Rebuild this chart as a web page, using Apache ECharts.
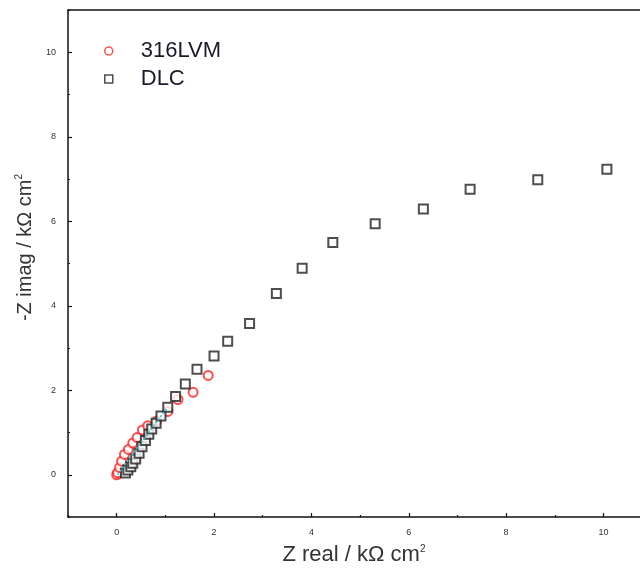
<!DOCTYPE html>
<html>
<head>
<meta charset="utf-8">
<script src="https://cdn.jsdelivr.net/npm/echarts@6/dist/echarts.min.js"></script>
<style>html,body{margin:0;padding:0;background:#fff}#c{width:640px;height:573px}</style>
</head>
<body>
<div id="c"></div>
<script>
const seriesNames = ['316LVM', 'DLC'];
const xTicks = [0, 2, 4, 6, 8, 10];
const yTicks = [0, 2, 4, 6, 8, 10];
const xMinorTicks = [-1, 1, 3, 5, 7, 9];
const yMinorTicks = [-1, 1, 3, 5, 7, 9, 11];

const lvmZreal = [0.00, 0.02, 0.06, 0.10, 0.16, 0.24, 0.33, 0.42, 0.53, 0.64, 0.82, 1.05, 1.26, 1.57, 1.88];
const lvmZimag = [0.00, 0.05, 0.17, 0.32, 0.48, 0.60, 0.75, 0.88, 1.06, 1.16, 1.27, 1.50, 1.78, 1.95, 2.35];

const dlcZreal = [0.18, 0.23, 0.29, 0.33, 0.39, 0.46, 0.52, 0.59, 0.66, 0.72, 0.81, 0.91, 1.05, 1.21, 1.41, 1.65, 2.00, 2.28, 2.73, 3.28, 3.81, 4.44, 5.31, 6.30, 7.26, 8.65, 10.07];
const dlcZimag = [0.04, 0.11, 0.19, 0.27, 0.37, 0.51, 0.66, 0.81, 0.96, 1.08, 1.22, 1.39, 1.60, 1.85, 2.15, 2.50, 2.81, 3.16, 3.58, 4.29, 4.89, 5.50, 5.94, 6.29, 6.76, 6.98, 7.23];

const fitZreal = [0.02, 0.20, 0.40, 0.60, 0.80, 1.05];
const fitZimag = [0.00, 0.29, 0.60, 0.91, 1.22, 1.60];

const zip = (a, b) => a.map((v, i) => [v, b[i]]);

const chart = echarts.init(document.getElementById('c'), null, {renderer: 'canvas'});
const font = "'Liberation Sans', Arial, sans-serif";
const X_MIN = -1, X_MAX = 10.75, Y_MIN = -1, Y_MAX = 11;
const lineCol = '#111';
const supRich = {sup: {fontSize: 10, verticalAlign: 'top', padding: [0, 0, 12, 0], fontFamily: font, color: '#333'}};

const baseX = {type: 'value', min: X_MIN, max: X_MAX, splitLine: {show: false}};
const baseY = {type: 'value', min: Y_MIN, max: Y_MAX, splitLine: {show: false}};

chart.setOption({
  animation: false,
  backgroundColor: '#fff',
  grid: {left: 68, top: 10, right: 0, bottom: 56},
  legend: {
    orient: 'vertical', left: 99, top: 35, itemWidth: 8, itemHeight: 8, itemGap: 6,
    textStyle: {fontFamily: font, fontSize: 22, color: '#1a1a2a', lineHeight: 22, padding: [0, 0, 0, 23]},
    data: [
      {name: seriesNames[0], icon: 'circle', itemStyle: {color: 'transparent', borderColor: '#ff2020', borderWidth: 1.5}},
      {name: seriesNames[1], icon: 'rect', itemStyle: {color: 'transparent', borderColor: '#222', borderWidth: 1.5}}
    ]
  },
  xAxis: [
    Object.assign({}, baseX, {
      position: 'bottom',
      name: 'Z real / kΩ cm{sup|2}', nameLocation: 'middle', nameGap: 27,
      nameTextStyle: {fontFamily: font, fontSize: 22, color: '#333', rich: supRich},
      axisLine: {show: true, onZero: false, lineStyle: {color: lineCol, width: 1.5}},
      axisTick: {show: true, inside: true, length: 4, customValues: xTicks, lineStyle: {color: lineCol, width: 1.2}},
      axisLabel: {fontFamily: font, fontSize: 9, color: '#333', margin: 11, customValues: xTicks}
    }),
    Object.assign({}, baseX, {
      position: 'bottom',
      axisLine: {show: false, onZero: false},
      axisTick: {show: true, inside: true, length: 2, customValues: xMinorTicks, lineStyle: {color: lineCol, width: 1.2}},
      axisLabel: {show: false}
    }),
    Object.assign({}, baseX, {
      position: 'top',
      axisLine: {show: true, onZero: false, lineStyle: {color: lineCol, width: 1.5}},
      axisTick: {show: false},
      axisLabel: {show: false}
    })
  ],
  yAxis: [
    Object.assign({}, baseY, {
      position: 'left',
      name: '-Z imag / kΩ cm{sup|2}', nameLocation: 'middle', nameGap: 29, nameRotate: 90,
      nameTextStyle: {fontFamily: font, fontSize: 20, color: '#333', padding: [0, 0, 0, 32], rich: supRich},
      axisLine: {show: true, onZero: false, lineStyle: {color: lineCol, width: 1.5}},
      axisTick: {show: true, inside: true, length: 4, customValues: yTicks, lineStyle: {color: lineCol, width: 1.2}},
      axisLabel: {fontFamily: font, fontSize: 9, color: '#333', margin: 12, customValues: yTicks}
    }),
    Object.assign({}, baseY, {
      position: 'left',
      axisLine: {show: false, onZero: false},
      axisTick: {show: true, inside: true, length: 2, customValues: yMinorTicks, lineStyle: {color: lineCol, width: 1.2}},
      axisLabel: {show: false}
    })
  ],
  series: [
    {
      name: seriesNames[0], type: 'scatter', symbol: 'emptyCircle', symbolSize: 9, z: 3,
      itemStyle: {color: '#ff2020', borderColor: '#ff2020', borderWidth: 1.5},
      data: zip(lvmZreal, lvmZimag)
    },
    {
      name: seriesNames[1], type: 'scatter', symbol: 'emptyRect', symbolSize: 9, z: 4,
      itemStyle: {color: '#222', borderColor: '#222', borderWidth: 1.5},
      data: zip(dlcZreal, dlcZimag)
    },
    {
      name: 'fit', type: 'line', showSymbol: false, symbol: 'none', z: 5,
      lineStyle: {color: '#20c8d8', width: 1.5, type: [2, 2]},
      data: zip(fitZreal, fitZimag)
    }
  ]
});
</script>
</body>
</html>
